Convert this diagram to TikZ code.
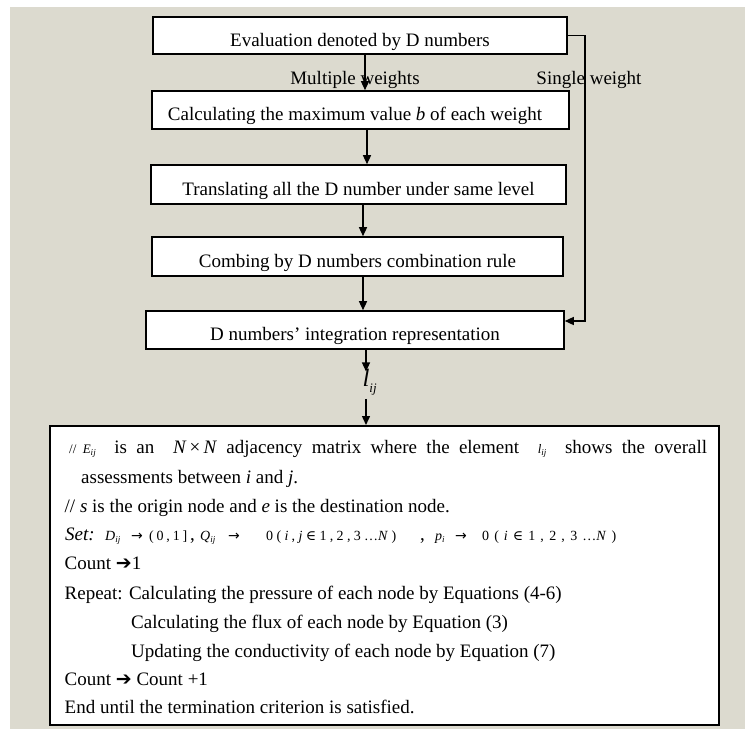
\documentclass[tikz,border=0pt]{standalone}
\usepackage{fontspec}
\setmainfont{Liberation Serif}
\newfontfamily\symf{DejaVu Sans}
\newfontfamily\symserif{DejaVu Serif}
\usetikzlibrary{arrows.meta}
\definecolor{bgc}{RGB}{220,218,207}
\newcommand\atx[2]{\makebox[0pt][l]{\hspace*{#1}#2}}
\newcommand\smf{\fontsize{13}{15}\selectfont}
\newcommand\mf{\fontsize{14}{16}\selectfont}
\newcommand\subf{\fontsize{9}{10}\selectfont}
\tikzset{
  box/.style={draw, line width=1.6pt, fill=white, inner sep=0pt,
    text height=21pt, text depth=0pt, font=\fontsize{19}{23}\selectfont},
  arr/.style={line width=1.4pt, -{Triangle[length=9pt,width=8pt]}},
  lbl/.style={font=\fontsize{19}{23}\selectfont, inner sep=0pt},
  txt/.style={font=\fontsize{19}{23}\selectfont, inner sep=0pt, anchor=base west},
}
\begin{document}
\begin{tikzpicture}[x=1pt,y=-1pt]
\useasboundingbox (0,0) rectangle (745,729);
\fill[white] (0,0) rectangle (745,729);
\fill[bgc] (10,7) rectangle (745,729);

\node[box, minimum width=414pt, minimum height=37pt] (b1) at (360,35.5) {Evaluation denoted by D numbers};
\node[box, minimum width=417pt, minimum height=38pt] (b2) at (360.5,110) {Calculating the maximum value \textit{b} of each weight\hspace*{11pt}};
\node[box, minimum width=415pt, minimum height=39pt] (b3) at (358.5,184.5) {Translating all the D number under same level};
\node[box, minimum width=411pt, minimum height=39pt] (b4) at (357.5,256.5) {Combing by D numbers combination rule};
\node[box, minimum width=418pt, minimum height=38pt] (b5) at (355,330) {D numbers' integration representation};

\node[draw, line width=2pt, fill=white, inner sep=0pt, minimum width=669pt, minimum height=299pt] (big) at (384.5,575.5) {};

\node[lbl] (mw) at (355,80) {Multiple weights};
\node[lbl] (sw) at (589,80) {Single weight};

\node[inner sep=0pt, anchor=base, font=\fontsize{25}{28}\selectfont] (lij) at (366,386)
  {\textit{l}\rlap{\raisebox{-6pt}{\fontsize{13}{14}\selectfont\textit{ij}}}};

\coordinate (r) at (585,0);

\draw[arr] ([xshift=5pt]b1.south) -- ([xshift=5pt]b1.south |- b2.north);
\draw[arr] ([xshift=6.5pt]b2.south) -- ([xshift=6.5pt]b2.south |- b3.north);
\draw[arr] ([xshift=4.5pt]b3.south) -- ([xshift=4.5pt]b3.south |- b4.north);
\draw[arr] ([xshift=5.5pt]b4.south) -- ([xshift=5.5pt]b4.south |- b5.north);
\draw[arr] (b5.south -| lij.north) -- ([yshift=-3pt]lij.north);
\draw[arr] ([yshift=-4pt]lij.south) -- (lij.south |- big.north);
\draw[arr] (b1.east) -- (b1.east -| r) -- ([yshift=9pt]b5.east -| r) -- ([yshift=9pt]b5.east);

\node[txt] (l1) at (69,453) {\makebox[638pt][s]{{\smf //\ \textit{E}\raisebox{-2pt}{\subf\textit{ij}}}\ \ is an \ \textit{N}\,×\,\textit{N} adjacency matrix where the element \ {\smf\textit{l}\raisebox{-2pt}{\subf\textit{ij}}}\ \ shows the overall}};
\node[txt] (l2) at (81,483) {assessments between \textit{i} and \textit{j}.};
\node[txt] (l3) at (64.5,512) {// \textit{s} is the origin node and \textit{e} is the destination node.};
\node[txt] (l4) at (64.5,540) {%
  \atx{0pt}{\textit{Set:}}%
  \atx{40pt}{\mf\textit{D}\raisebox{-2pt}{\subf\textit{ij}}}%
  \atx{66pt}{\mf\symf →}%
  \atx{84pt}{\mf\makebox[38pt][s]{( 0 , 1 ]}}%
  \atx{125pt}{,}%
  \atx{135pt}{\mf\textit{Q}\raisebox{-2pt}{\subf\textit{ij}}}%
  \atx{163pt}{\mf\symf →}%
  \atx{201pt}{\mf\makebox[130pt][s]{0 ( \textit{i} , \textit{j} {\symserif ∈} 1 , 2 , 3 …\textit{N} )}}%
  \atx{355pt}{,}%
  \atx{370pt}{\mf\textit{p}\raisebox{-2pt}{\subf\textit{i}}}%
  \atx{390pt}{\mf\symf →}%
  \atx{417pt}{\mf\makebox[134pt][s]{0 ( \textit{i} {\symserif ∈} 1 , 2 , 3 …\textit{N} )}}%
};
\node[txt] (l5) at (64.5,569) {Count {\symf ➔}1};
\node[txt] (l6) at (64.5,599) {Repeat: Calculating the pressure of each node by Equations (4-6)};
\node[txt] (l7) at (131,628) {Calculating the flux of each node by Equation (3)};
\node[txt] (l8) at (131,657) {Updating the conductivity of each node by Equation (7)};
\node[txt] (l9) at (64.5,685) {Count {\symf ➔} Count +1};
\node[txt] (l10) at (64.5,713) {End until the termination criterion is satisfied.};
\end{tikzpicture}
\end{document}
